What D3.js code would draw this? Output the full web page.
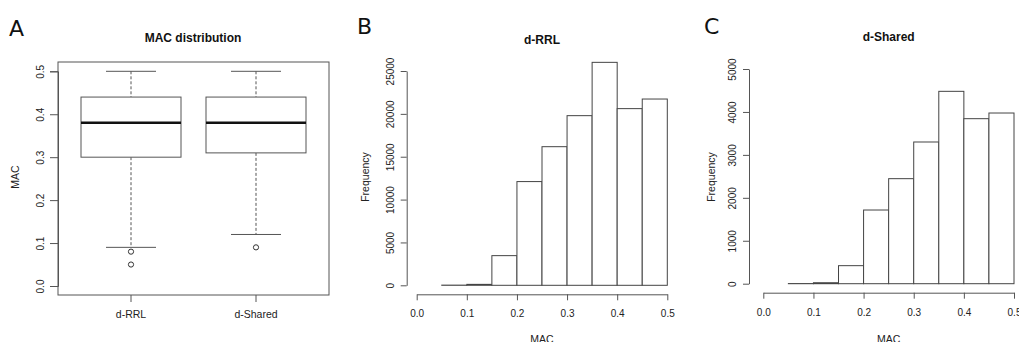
<!DOCTYPE html>
<html>
<head>
<meta charset="utf-8">
<script src="https://cdn.jsdelivr.net/npm/d3@7"></script>
<style>
  body { margin: 0; background: #fff; }
  svg { display: block; font-family: "Liberation Sans", Arial, sans-serif; }
</style>
</head>
<body>
<svg id="chart" width="1019" height="342"></svg>
<script>
// panel A: boxplot
const boxCategories = ['d-RRL', 'd-Shared'];
const boxQ1 = [0.30, 0.31];
const boxMedian = [0.38, 0.38];
const boxQ3 = [0.44, 0.44];
const whiskerLow = [0.09, 0.12];
const whiskerHigh = [0.50, 0.50];
const boxOutliers = [[0.08, 0.05], [0.09]];
const macTicks = [0.0, 0.1, 0.2, 0.3, 0.4, 0.5];

// panels B and C: histograms
const binEdges = [0.05, 0.10, 0.15, 0.20, 0.25, 0.30, 0.35, 0.40, 0.45, 0.50];
const rrlCounts = [20, 110, 3460, 12100, 16170, 19790, 26010, 20610, 21730];
const sharedCounts = [3, 23, 420, 1716, 2446, 3300, 4480, 3843, 3975];
const rrlTicks = [0, 5000, 10000, 15000, 20000, 25000];
const sharedTicks = [0, 1000, 2000, 3000, 4000, 5000];

const svg = d3.select('#chart');
const lineCol = '#555';

function rotateLeftLabels(g, offset) {
  g.selectAll('.tick text')
    .attr('x', 0)
    .attr('y', -offset)
    .attr('dy', 0)
    .attr('transform', 'rotate(-90)')
    .style('text-anchor', 'middle');
}

function styleAxis(g) {
  g.selectAll('path, line').attr('stroke', lineCol);
  g.selectAll('text').attr('fill', '#222').style('font-size', '10px')
    .style('font-family', '"Liberation Sans", Arial, sans-serif');
}

function panelLetter(x, y, t) {
  svg.append('text').attr('x', x).attr('y', y).text(t)
    .style('font-family', '"DejaVu Sans", sans-serif')
    .style('font-size', '22px').attr('fill', '#111');
}

function title(x, y, t) {
  svg.append('text').attr('x', x).attr('y', y).text(t)
    .attr('text-anchor', 'middle').attr('fill', '#111')
    .style('font-weight', 'bold').style('font-size', '12px');
}

function yLabel(x, y, t) {
  svg.append('text').attr('transform', `translate(${x},${y}) rotate(-90)`)
    .attr('text-anchor', 'middle').attr('fill', '#222')
    .style('font-size', '10.5px').text(t);
}

// ---------- Panel A ----------
const aY = d3.scaleLinear().domain([0, 0.5]).range([286, 71.3]);
const aX = d3.scaleBand().domain(boxCategories).range([68.5, 318.5]);
const frame = { left: 58, right: 329, top: 62, bottom: 295 };

panelLetter(9, 36, 'A');
title(193, 42, 'MAC distribution');
yLabel(19, 177, 'MAC');

svg.append('rect')
  .attr('x', frame.left).attr('y', frame.top)
  .attr('width', frame.right - frame.left).attr('height', frame.bottom - frame.top)
  .attr('fill', 'none').attr('stroke', lineCol);

const aAxisY = svg.append('g').attr('transform', `translate(${frame.left},0)`)
  .call(d3.axisLeft(aY).tickValues(macTicks).tickSize(8).tickFormat(d3.format('.1f')));
styleAxis(aAxisY);
rotateLeftLabels(aAxisY, 14.5);

const aAxisX = svg.append('g').attr('transform', `translate(0,${frame.bottom})`)
  .call(d3.axisBottom(aX).tickSize(7).tickPadding(9).tickSizeOuter(0));
aAxisX.select('.domain').remove();
styleAxis(aAxisX);
aAxisX.selectAll('text').style('font-size', '10.5px');

const boxW = aX.bandwidth() * 0.8;
boxCategories.forEach((c, i) => {
  const cx = aX(c) + aX.bandwidth() / 2;
  const g = svg.append('g');
  // whiskers
  g.append('line').attr('x1', cx).attr('x2', cx)
    .attr('y1', aY(whiskerHigh[i])).attr('y2', aY(boxQ3[i]))
    .attr('stroke', lineCol).attr('stroke-dasharray', '3,2');
  g.append('line').attr('x1', cx).attr('x2', cx)
    .attr('y1', aY(boxQ1[i])).attr('y2', aY(whiskerLow[i]))
    .attr('stroke', lineCol).attr('stroke-dasharray', '3,2');
  [whiskerHigh[i], whiskerLow[i]].forEach(v => {
    g.append('line').attr('x1', cx - boxW / 4).attr('x2', cx + boxW / 4)
      .attr('y1', aY(v)).attr('y2', aY(v)).attr('stroke', lineCol);
  });
  g.append('rect').attr('x', cx - boxW / 2).attr('y', aY(boxQ3[i]))
    .attr('width', boxW).attr('height', aY(boxQ1[i]) - aY(boxQ3[i]))
    .attr('fill', '#fff').attr('stroke', lineCol);
  g.append('line').attr('x1', cx - boxW / 2).attr('x2', cx + boxW / 2)
    .attr('y1', aY(boxMedian[i])).attr('y2', aY(boxMedian[i]))
    .attr('stroke', '#111').attr('stroke-width', 2.5);
  boxOutliers[i].forEach(v => {
    g.append('circle').attr('cx', cx).attr('cy', aY(v)).attr('r', 2.6)
      .attr('fill', 'none').attr('stroke', '#333');
  });
});

// ---------- Histograms ----------
function histogram(opt) {
  const x = d3.scaleLinear().domain([0, 0.5]).range([opt.x0, opt.x1]);
  const y = d3.scaleLinear().domain([0, opt.yMax]).range([opt.yBase, opt.yTop]);

  panelLetter(opt.letterX, 34, opt.letter);
  title((opt.x0 + opt.x1) / 2, opt.titleY, opt.title);
  yLabel(opt.ylabX, 177, 'Frequency');
  svg.append('text').attr('x', (opt.x0 + opt.x1) / 2).attr('y', 342.5)
    .attr('text-anchor', 'middle').attr('fill', '#222')
    .style('font-size', '10.5px').text('MAC');

  const bins = opt.counts.map((v, i) => ({ lo: binEdges[i], hi: binEdges[i + 1], v }));
  svg.append('g').selectAll('rect').data(bins).join('rect')
    .attr('x', d => x(d.lo)).attr('width', d => x(d.hi) - x(d.lo))
    .attr('y', d => y(d.v)).attr('height', d => y(0) - y(d.v))
    .attr('fill', '#fff').attr('stroke', '#444');

  const gy = svg.append('g').attr('transform', `translate(${opt.axisX},0)`)
    .call(d3.axisLeft(y).tickValues(opt.ticks).tickSize(6).tickSizeOuter(0).tickFormat(d3.format('d')));
  styleAxis(gy);
  rotateLeftLabels(gy, 13);

  const gx = svg.append('g').attr('transform', `translate(0,${opt.axisY})`)
    .call(d3.axisBottom(x).tickValues(macTicks).tickSize(6).tickSizeOuter(0)
      .tickPadding(10).tickFormat(d3.format('.1f')));
  styleAxis(gx);
}

histogram({
  letter: 'B', letterX: 357, title: 'd-RRL', titleY: 44,
  x0: 416.7, x1: 667.3, yBase: 285.3, yTop: 71, yMax: 25000,
  axisX: 406.7, axisY: 294.3, ylabX: 369,
  counts: rrlCounts, ticks: rrlTicks
});

histogram({
  letter: 'C', letterX: 704, title: 'd-Shared', titleY: 41,
  x0: 763.3, x1: 1014, yBase: 283.7, yTop: 69, yMax: 5000,
  axisX: 749, axisY: 292.7, ylabX: 715,
  counts: sharedCounts, ticks: sharedTicks
});
</script>
</body>
</html>
